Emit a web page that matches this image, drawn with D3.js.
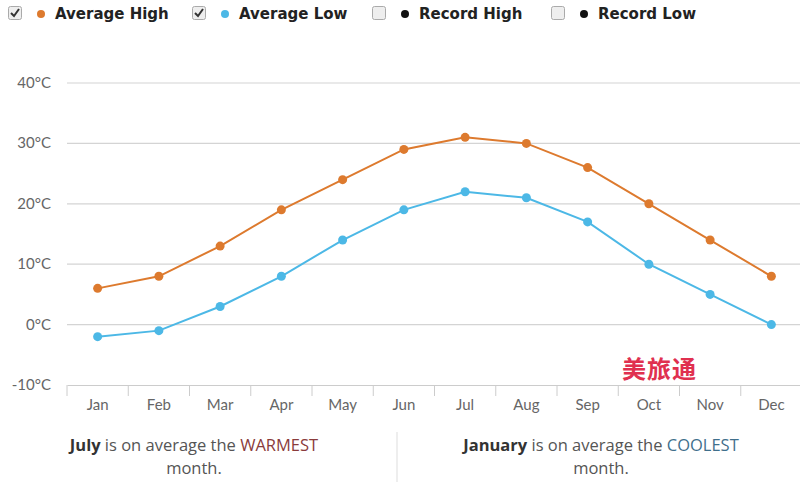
<!DOCTYPE html>
<html><head><meta charset="utf-8">
<script src="https://cdn.jsdelivr.net/npm/d3@7/dist/d3.min.js"></script>
<style>body{margin:0;background:#fff;}svg{display:block;}</style>
</head><body>
<script>
const months = ["Jan","Feb","Mar","Apr","May","Jun","Jul","Aug","Sep","Oct","Nov","Dec"];
const avgHigh = [6,8,13,19,24,29,31,30,26,20,14,8];
const avgLow = [-2,-1,3,8,14,19,22,21,17,10,5,0];
const yTicks = [-10,0,10,20,30,40];
const legendItems = ["Average High","Average Low","Record High","Record Low"];
const legendChecked = [true,true,false,false];
const legendColors = ["#dd7a2e","#4cb8e6","#111","#111"];

const W = 800, H = 486;
const svg = d3.select("body").append("svg").attr("width",W).attr("height",H);

const x = d3.scaleBand().domain(months).range([67, 802]);
const y = d3.scaleLinear().domain([-10,40]).range([385, 83]);

// gridlines
svg.append("g").selectAll("line").data(yTicks.filter(t=>t>-10)).join("line")
  .attr("x1",67).attr("x2",800).attr("y1",d=>y(d)).attr("y2",d=>y(d))
  .attr("stroke","#d4d4d4").attr("stroke-width",1.2);

// y labels
svg.append("g").selectAll("text").data(yTicks).join("text")
  .attr("x",51).attr("y",d=>y(d)+5).attr("text-anchor","end")
  .attr("font-family","Lato, 'Open Sans', sans-serif").attr("font-size",15).attr("fill","#666")
  .text(d=>d+"°C");

// x axis
const xa = svg.append("g").attr("transform","translate(0,385)")
  .call(d3.axisBottom(x).tickSize(0).tickPadding(14));
xa.select(".domain").attr("stroke","#ccc");
xa.selectAll("text").attr("font-family","Lato, 'Open Sans', sans-serif").attr("font-size",15).attr("fill","#666");
svg.append("g").selectAll("line").data(months).join("line")
  .attr("x1",d=>x(d)).attr("x2",d=>x(d)).attr("y1",385).attr("y2",396)
  .attr("stroke","#ccc");

// series
function drawSeries(vals,color){
  const line = d3.line().x((d,i)=>x(months[i])+x.bandwidth()/2).y(d=>y(d));
  svg.append("path").datum(vals).attr("d",line).attr("fill","none").attr("stroke",color).attr("stroke-width",2);
  svg.append("g").selectAll("circle").data(vals).join("circle")
    .attr("cx",(d,i)=>x(months[i])+x.bandwidth()/2).attr("cy",d=>y(d)).attr("r",4.5).attr("fill",color);
}
drawSeries(avgHigh,"#dd7a2e");
drawSeries(avgLow,"#4cb8e6");

// watermark
svg.append("text").attr("x",622).attr("y",378).attr("font-family","'Noto Sans CJK SC'").attr("font-weight",700)
  .attr("font-size",24).attr("letter-spacing",1).attr("fill","#e0304f").text("美旅通");

// legend
const legX = [8,192,372,551];
const lg = svg.append("g");
legendItems.forEach((name,i)=>{
  const g = lg.append("g").attr("transform",`translate(${legX[i]},6)`);
  g.append("rect").attr("x",0.5).attr("y",0.5).attr("width",13).attr("height",13).attr("rx",2)
    .attr("fill","#eee").attr("stroke","#aaa");
  if(legendChecked[i]) g.append("path").attr("d","M3,7 L6,10 L11,3").attr("fill","none").attr("stroke","#333").attr("stroke-width",2);
  g.append("circle").attr("cx",33).attr("cy",8).attr("r",4).attr("fill",legendColors[i]);
  g.append("text").attr("x",47).attr("y",13).attr("font-family","'DejaVu Sans', sans-serif").attr("font-weight",700)
    .attr("font-size",15).attr("fill","#222").text(name);
});

// bottom notes
const notes = svg.append("g").attr("font-family","'Open Sans', sans-serif").attr("font-size",16.5).attr("fill","#555");
function note(cx,bold,word,color){
  const t = notes.append("text").attr("x",cx).attr("y",451).attr("text-anchor","middle");
  t.append("tspan").attr("font-weight",700).attr("fill","#333").text(bold);
  t.append("tspan").text(" is on average the ");
  t.append("tspan").attr("fill",color).text(word);
  notes.append("text").attr("x",cx).attr("y",474).attr("text-anchor","middle").text("month.");
}
note(194,"July","WARMEST","#8a3b3b");
note(601,"January","COOLEST","#3f6f8c");
svg.append("line").attr("x1",397).attr("x2",397).attr("y1",432).attr("y2",482).attr("stroke","#ddd");
</script>
</body></html>
